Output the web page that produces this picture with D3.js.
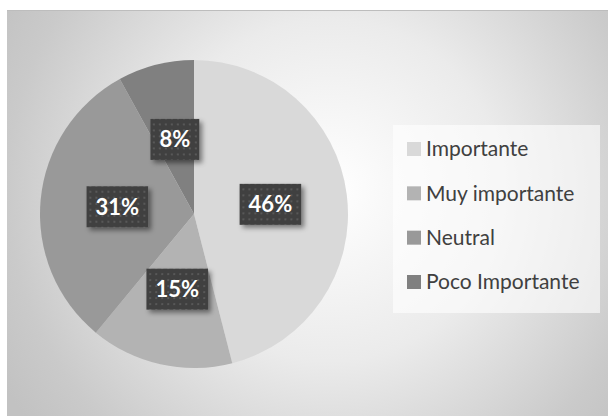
<!DOCTYPE html>
<html>
<head>
<meta charset="utf-8">
<script src="https://cdn.jsdelivr.net/npm/d3@7"></script>
<style>
  html, body { margin: 0; padding: 0; background: #ffffff; }
  svg { display: block; }
</style>
</head>
<body>
<div id="chart"></div>
<script>
// Survey answers and their share of responses (percent)
const categories = ["Importante", "Muy importante", "Neutral", "Poco Importante"];
const values = [46, 15, 31, 8];
const sliceColors = ["#d9d9d9", "#b3b3b3", "#999999", "#808080"];

const width = 608, height = 416;
const svg = d3.select("#chart").append("svg")
  .attr("width", width).attr("height", height);

const defs = svg.append("defs");

// Radial wash behind the plot
const bg = defs.append("radialGradient")
  .attr("id", "bgGrad")
  .attr("gradientUnits", "userSpaceOnUse")
  .attr("cx", 330).attr("cy", 190).attr("r", 380);
[[0, "#ffffff"], [0.45, "#ebebeb"], [0.85, "#cacaca"], [1, "#c2c2c2"]]
  .forEach(([o, c]) => bg.append("stop").attr("offset", o).attr("stop-color", c));

// Dotted fill for the value boxes
const pat = defs.append("pattern")
  .attr("id", "dots").attr("patternUnits", "userSpaceOnUse")
  .attr("width", 6).attr("height", 6);
pat.append("rect").attr("width", 6).attr("height", 6).attr("fill", "#404040");
pat.append("rect").attr("x", 2).attr("y", 2).attr("width", 2).attr("height", 2).attr("fill", "#585858");

// Soft shadow under the value boxes
const shadow = defs.append("filter").attr("id", "shadow")
  .attr("x", "-30%").attr("y", "-30%").attr("width", "170%").attr("height", "170%");
shadow.append("feDropShadow")
  .attr("dx", 3).attr("dy", 3).attr("stdDeviation", 2.5)
  .attr("flood-color", "#000").attr("flood-opacity", 0.45);

// Chart area
svg.append("rect")
  .attr("x", 7).attr("y", 10).attr("width", width - 7).attr("height", height - 10)
  .attr("fill", "url(#bgGrad)");
svg.append("line")
  .attr("x1", 7).attr("x2", width).attr("y1", 10.5).attr("y2", 10.5)
  .attr("stroke", "#bdbdbd").attr("stroke-width", 1);

// Pie
const cx = 194, cy = 214, radius = 154;
const pie = d3.pie().sort(null).value(d => d)(values);
const arc = d3.arc().innerRadius(0).outerRadius(radius);
const labelArc = d3.arc().innerRadius(radius * 0.5).outerRadius(radius * 0.5);
const color = d3.scaleOrdinal().domain(categories).range(sliceColors);

const g = svg.append("g").attr("transform", `translate(${cx},${cy})`);
g.selectAll("path.slice")
  .data(pie)
  .join("path")
  .attr("class", "slice")
  .attr("d", arc)
  .attr("fill", (d, i) => color(categories[i]));

// Value labels
const labels = g.selectAll("g.lbl")
  .data(pie)
  .join("g")
  .attr("class", "lbl")
  .attr("transform", d => `translate(${labelArc.centroid(d)})`);

labels.each(function(d) {
  const sel = d3.select(this);
  const txt = sel.append("text")
    .attr("text-anchor", "middle")
    .attr("dy", "0.36em")
    .attr("fill", "#ffffff")
    .attr("font-family", "Lato, 'Open Sans', sans-serif")
    .attr("font-weight", "bold")
    .attr("font-size", 22)
    .text(d.data + "%");
  const w = txt.node().getComputedTextLength() + 18;
  const h = 41;
  sel.insert("rect", "text")
    .attr("x", -w / 2).attr("y", -h / 2)
    .attr("width", w).attr("height", h)
    .attr("fill", "url(#dots)")
    .attr("filter", "url(#shadow)");
});

// Legend
const legend = svg.append("g");
legend.append("rect")
  .attr("x", 393).attr("y", 125).attr("width", 207).attr("height", 188)
  .attr("fill", "#ffffff").attr("fill-opacity", 0.6);

const ly = d3.scalePoint().domain(categories).range([149, 282]);
const items = legend.selectAll("g.item")
  .data(categories)
  .join("g")
  .attr("class", "item")
  .attr("transform", d => `translate(407,${ly(d)})`);
items.append("rect")
  .attr("x", 0).attr("y", -7).attr("width", 14).attr("height", 14)
  .attr("fill", d => color(d));
items.append("text")
  .attr("x", 19).attr("dy", "0.35em")
  .attr("fill", "#404040")
  .attr("font-family", "Lato, 'Open Sans', sans-serif")
  .attr("font-size", 21)
  .text(d => d);
</script>
</body>
</html>
